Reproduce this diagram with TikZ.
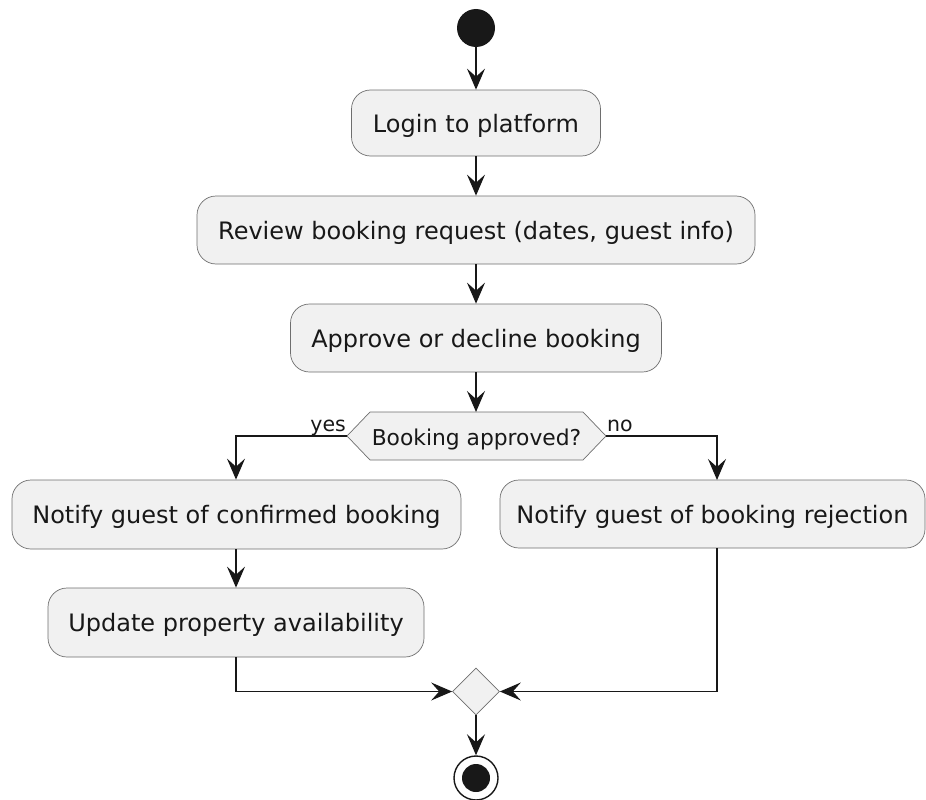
\documentclass[tikz,border=0pt]{standalone}
\usepackage{fontspec}
\setmainfont{DejaVu Sans}
\usetikzlibrary{arrows.meta,shapes.geometric}

\definecolor{ink}{HTML}{181818}
\definecolor{boxfill}{HTML}{F1F1F1}
\definecolor{boxline}{HTML}{6E6E6E}

\begin{document}
\begin{tikzpicture}[x=1pt,y=-1pt,
  act/.style={draw=boxline, fill=boxfill, rounded corners=19pt, line width=0.7pt,
    inner sep=0pt, text=ink, font=\fontsize{24}{28}\selectfont,
    text height=21pt, text depth=3pt},
  flow/.style={draw=ink, line width=1.4pt,
    -{Stealth[length=21pt,width=18pt,inset=8pt]}},
  lbl/.style={inner sep=1pt, text=ink, font=\fontsize{21.8}{26}\selectfont,
    text height=20pt, text depth=2pt},
  armlbl/.style={inner sep=1pt, text=ink, font=\fontsize{20.5}{24}\selectfont}
]
\useasboundingbox (0,0) rectangle (926,800);

% start and stop markers
\node[circle, fill=ink, minimum size=38pt, inner sep=0pt] (start) at (476,28) {};
\node[circle, draw=ink, line width=1.4pt, fill=white, minimum size=44pt, inner sep=0pt] (stop) at (476,778) {};
\node[circle, fill=ink, minimum size=28pt, inner sep=0pt] (stopdot) at (stop) {};

% main activities
\node[act, minimum width=249pt, minimum height=66pt] (login) at (476,123) {Login to platform};
\node[act, minimum width=558pt, minimum height=68pt] (review) at (476,230) {Review booking request (dates, guest info)};
\node[act, minimum width=371pt, minimum height=68pt] (approve) at (476,338) {Approve or decline booking};

% decision hexagon
\coordinate (decW) at (347,436);
\coordinate (decE) at (606,436);
\coordinate (decN) at (476,412);
\filldraw[draw=boxline, fill=boxfill, line width=0.7pt]
  (decW) -- (370,412) -- (583,412) -- (decE) -- (583,460) -- (370,460) -- cycle;
\node[lbl] (dectext) at (476.5,436) {Booking approved?};

% branches
\node[act, minimum width=449pt, minimum height=69pt] (confirm) at (236.5,514.5) {Notify guest of confirmed booking};
\node[act, minimum width=376pt, minimum height=69pt] (update) at (236,622.5) {Update property availability};
\node[act, minimum width=425pt, minimum height=68pt] (reject) at (712.5,514) {Notify guest of booking rejection};
\coordinate (rejectTop) at (717,480);
\coordinate (rejectBot) at (717,548);

% merge diamond
\node[diamond, draw=boxline, fill=boxfill, line width=0.7pt, minimum size=47pt, inner sep=0pt] (merge) at (476,691.5) {};

% connectors
\draw[flow] (start) -- (login);
\draw[flow] (login) -- (review);
\draw[flow] (review) -- (approve);
\draw[flow] (approve.south) -- (decN);
\draw[flow] (decW) -| (confirm.north -| 236,0);
\draw[flow] (decE) -| (rejectTop);
\draw[flow] (confirm.south -| 236,0) -- (update.north -| 236,0);
\draw[flow] (update.south) |- (merge.west);
\draw[flow] (rejectBot) |- (merge.east);
\draw[flow] (merge) -- (stop);

% branch labels
\node[armlbl, anchor=base east, yshift=4.5pt] (yes) at (decW) {yes};
\node[armlbl, anchor=base west, yshift=4.5pt] (no) at (decE) {no};
\end{tikzpicture}
\end{document}
